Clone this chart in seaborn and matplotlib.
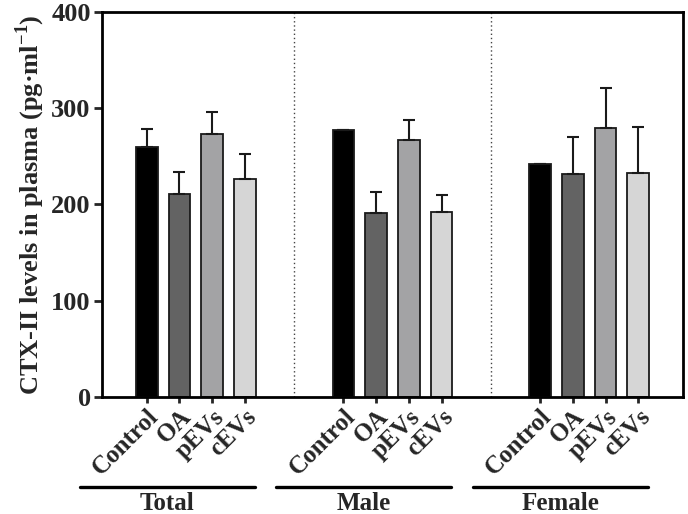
import numpy as np
import pandas as pd
import seaborn as sns
import matplotlib.pyplot as plt

groups = ["Total", "Male", "Female"]
conditions = ["Control", "OA", "pEVs", "cEVs"]
colors = ["#000000", "#636363", "#a2a2a6", "#d6d6d6"]

total_mean = [260, 211, 273, 226]
total_err = [18, 23, 23, 26]
male_mean = [277, 191, 267, 192]
male_err = [0, 22, 21, 18]
female_mean = [242, 231, 279, 233]
female_err = [0, 39, 42, 47]

means = [total_mean, male_mean, female_mean]
errs = [total_err, male_err, female_err]

rows = []
for gi, g in enumerate(groups):
    for ci, c in enumerate(conditions):
        rows.append({"group": g, "condition": c, "pos": gi * 6 + ci,
                     "value": means[gi][ci], "err": errs[gi][ci]})
df = pd.DataFrame(rows)

sns.set_style("ticks")
plt.rcParams["font.family"] = ["Liberation Serif", "DejaVu Serif"]
plt.rcParams["font.weight"] = "bold"
plt.rcParams["mathtext.fontset"] = "custom"
plt.rcParams["mathtext.rm"] = "Liberation Serif:bold"
plt.rcParams["mathtext.bf"] = "Liberation Serif:bold"

fig = plt.figure(figsize=(6.88, 5.14), dpi=100)
ax = fig.add_axes([0.148, 0.228, 0.845, 0.749])

sns.barplot(data=df, x="pos", y="value", hue="condition", hue_order=conditions,
            palette=colors, native_scale=True, dodge=False, width=0.66,
            edgecolor="#1a1a1a", linewidth=1.3, legend=False, ax=ax, zorder=2)

ax.errorbar(df["pos"], df["value"], yerr=[np.zeros(len(df)), df["err"]],
            fmt="none", ecolor="#1a1a1a", elinewidth=1.5, capsize=4,
            capthick=1.5, zorder=3)

# dotted separators between groups
for xs in [4.5, 10.5]:
    ax.axvline(xs, color="#444444", linestyle=(0, (1, 2)), linewidth=1, zorder=1)

ax.set_xlim(-1.37, 16.37)
ax.set_ylim(0, 400)
ax.set_yticks([0, 100, 200, 300, 400])
ax.set_xticks(df["pos"])
ax.set_xticklabels(df["condition"], rotation=45, ha="right",
                   rotation_mode="anchor", fontsize=18, fontweight="bold")
for lab in ax.get_yticklabels():
    lab.set_fontsize(19)
    lab.set_fontweight("bold")
ax.set_xlabel("")
ax.set_ylabel("CTX-II levels in plasma (pg·ml$^{-1}$)", fontsize=19,
              fontweight="bold", labelpad=3)

for sp in ax.spines.values():
    sp.set_linewidth(2)
    sp.set_color("black")
ax.tick_params(axis="y", direction="out", length=6, width=2, pad=2)
ax.tick_params(axis="x", direction="out", length=4, width=2, pad=2)

# group underlines and labels
trans = ax.get_xaxis_transform()
for gi, g in enumerate(groups):
    x0 = gi * 6 - 2.05
    x1 = gi * 6 + 3.3
    ax.plot([x0, x1], [-0.234, -0.234], color="black", linewidth=2.4,
            transform=trans, clip_on=False)
    ax.text((x0 + x1) / 2, -0.277, g, transform=trans, ha="center",
            va="center", fontsize=18, fontweight="bold")

plt.savefig("out.png", dpi=100)
